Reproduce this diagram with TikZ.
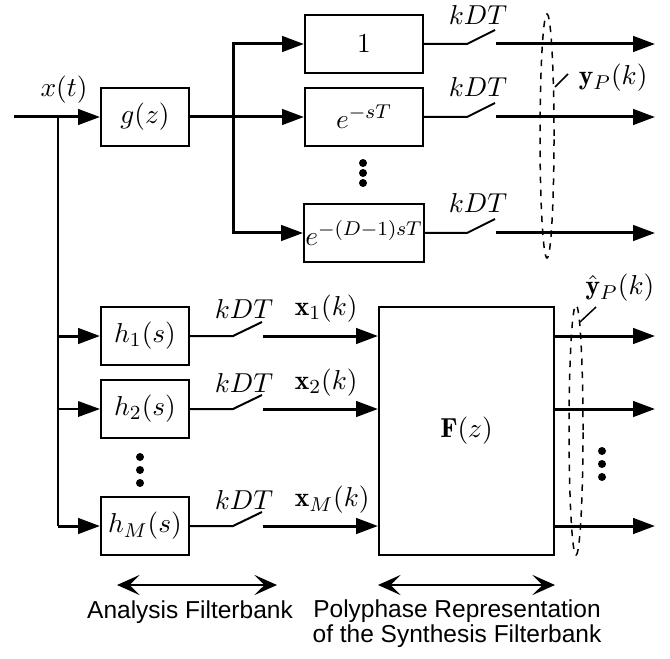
\documentclass[tikz,border=0pt]{standalone}
\usepackage{fontspec}
\setsansfont{Liberation Sans}
\usetikzlibrary{
    positioning,
    arrows.meta,
    shapes.geometric,
}
\tikzset{
    % Block styles
    block/.style={rectangle, draw, line width=0.8pt, minimum width=47.2pt,
                  minimum height=23.2pt, inner sep=0.5pt},
    small block/.style={block, minimum width=35.2pt},
    big block/.style={block, minimum width=70pt, minimum height=99.2pt},
    % Line styles
    wire/.style={line width=0.8pt},
    bus/.style={line width=1.2pt},
    signal/.style={bus, -{Triangle[length=8.8pt, width=6.2pt]}},
    branch/.style={wire, -{Triangle[length=8.8pt, width=6.2pt]}},
    span arrow/.style={line width=1.1pt,
        {Stealth[length=9pt, width=8pt, inset=4pt]}-{Stealth[length=9pt, width=8pt, inset=4pt]}},
    group/.style={ellipse, draw, dash pattern=on 2.6pt off 2.6pt, line width=0.6pt, inner sep=0pt},
    leader/.style={line width=0.6pt},
    % Annotation styles
    dot/.style={circle, fill, inner sep=0pt, minimum size=3.2pt},
    caption/.style={font=\sffamily\fontsize{9.8}{10}\selectfont},
}

\begin{document}
\begin{tikzpicture}[x=0.4pt, y=-0.4pt, font=\fontsize{11}{13}\selectfont]
    \useasboundingbox (0,0) rectangle (670,658);

    % Input and prefilter
    \coordinate (in) at (14,117);
    \coordinate (split) at (58,117);
    \node (xt) at (64,90) {$x(t)$};
    \node[small block] (g) at (145,117) {$g(z)$};
    \draw[signal] (in) -- (g);

    % Delay branches
    \coordinate (fork) at (233,117);
    \node[block] (d0) at (364,44) {$1$};
    \node[block] (d1) at (364,117) {$e^{-sT}$};
    \node[block] (dD) at (364,233) {$e^{-(D-1)sT}$};
    \draw[bus] (g) -- (fork);
    \draw[signal] (fork) |- (d0);
    \draw[signal] (fork) -- (d1);
    \draw[signal] (fork) |- (dD);
    \foreach \y in {163,173,183}
        \node[dot] (dd\y) at (363,\y) {};

    % Samplers (upper)
    \coordinate (p0) at (467,44);  \coordinate (q0) at (495,30);
    \coordinate (p1) at (467,117); \coordinate (q1) at (495,103);
    \coordinate (pD) at (467,233); \coordinate (qD) at (495,219);
    \coordinate (r0) at (496,44);  \coordinate (y0) at (655,44);
    \coordinate (r1) at (496,117); \coordinate (y1) at (655,117);
    \coordinate (rD) at (496,233); \coordinate (yD) at (655,233);
    \draw[wire] (d0) -- (p0) -- (q0);
    \draw[wire] (d1) -- (p1) -- (q1);
    \draw[wire] (dD) -- (pD) -- (qD);
    \draw[signal] (r0) -- (y0);
    \draw[signal] (r1) -- (y1);
    \draw[signal] (rD) -- (yD);
    \node (k0) at (478,15) {$kDT$};
    \node (k1) at (478,87) {$kDT$};
    \node (kD) at (478,203) {$kDT$};

    % Output group y_P
    \node[group, minimum width=5.6pt, minimum height=97.6pt] (yp) at (547,136) {};
    \node[anchor=west] (yplab) at (570,78) {$\mathbf{y}_P(k)$};
    \coordinate (ypa) at (555,87);
    \coordinate (ypb) at (568,74);
    \draw[leader] (ypa) -- (ypb);

    % Analysis filterbank
    \node[small block] (h1) at (145,336) {$h_1(s)$};
    \node[small block] (h2) at (145,409) {$h_2(s)$};
    \node[small block] (hM) at (145,526) {$h_M(s)$};
    \draw[wire] (split) -- (split |- hM);
    \draw[signal] (split |- h1) -- (h1);
    \draw[branch] (split |- h2) -- (h2);
    \draw[signal] (split |- hM) -- (hM);
    \foreach \y in {457,470,483}
        \node[dot] (hd\y) at (140,\y) {};

    % Synthesis polyphase matrix
    \node[big block] (F) at (466.5,431) {$\mathbf{F}(z)$};

    % Samplers (lower)
    \coordinate (s1) at (233,336); \coordinate (t1) at (262,322);
    \coordinate (s2) at (233,409); \coordinate (t2) at (262,395);
    \coordinate (sM) at (233,526); \coordinate (tM) at (262,512);
    \coordinate (u1) at (263,336);
    \coordinate (u2) at (263,409);
    \coordinate (uM) at (263,526);
    \draw[wire] (h1) -- (s1) -- (t1);
    \draw[wire] (h2) -- (s2) -- (t2);
    \draw[wire] (hM) -- (sM) -- (tM);
    \draw[signal] (u1) -- (u1 -| F.west);
    \draw[signal] (u2) -- (u2 -| F.west);
    \draw[signal] (uM) -- (uM -| F.west);
    \node (kh1) at (244,309) {$kDT$};
    \node (kh2) at (244,383) {$kDT$};
    \node (khM) at (244,500) {$kDT$};
    \node[anchor=west] (x1) at (286,309) {$\mathbf{x}_1(k)$};
    \node[anchor=west] (x2) at (286,383) {$\mathbf{x}_2(k)$};
    \node[anchor=west] (xM) at (286,500) {$\mathbf{x}_M(k)$};

    % Outputs
    \coordinate (z1) at (655,336);
    \coordinate (z2) at (655,409);
    \coordinate (zM) at (655,526);
    \draw[signal] (z1 -| F.east) -- (z1);
    \draw[signal] (z2 -| F.east) -- (z2);
    \draw[signal] (zM -| F.east) -- (zM);
    \foreach \y in {451,464,477}
        \node[dot] (zd\y) at (602,\y) {};

    % Output group yhat_P
    \node[group, minimum width=5.6pt, minimum height=100pt] (yh) at (576,430) {};
    \node (yhlab) at (620,288) {$\hat{\mathbf{y}}_P(k)$};
    \coordinate (yha) at (580,322);
    \coordinate (yhb) at (596,307);
    \draw[leader] (yha) -- (yhb);

    % Spans
    \coordinate (a1) at (117,585);
    \coordinate (a2) at (277,585);
    \draw[span arrow] (a1) -- (a2);
    \draw[span arrow] (F.west |- a1) -- (F.east |- a1);
    \node[caption] (cap1) at (190,612) {Analysis Filterbank};
    \node[caption, align=center] (cap2) at (457,624) {Polyphase Representation\\of the Synthesis Filterbank};
\end{tikzpicture}
\end{document}
